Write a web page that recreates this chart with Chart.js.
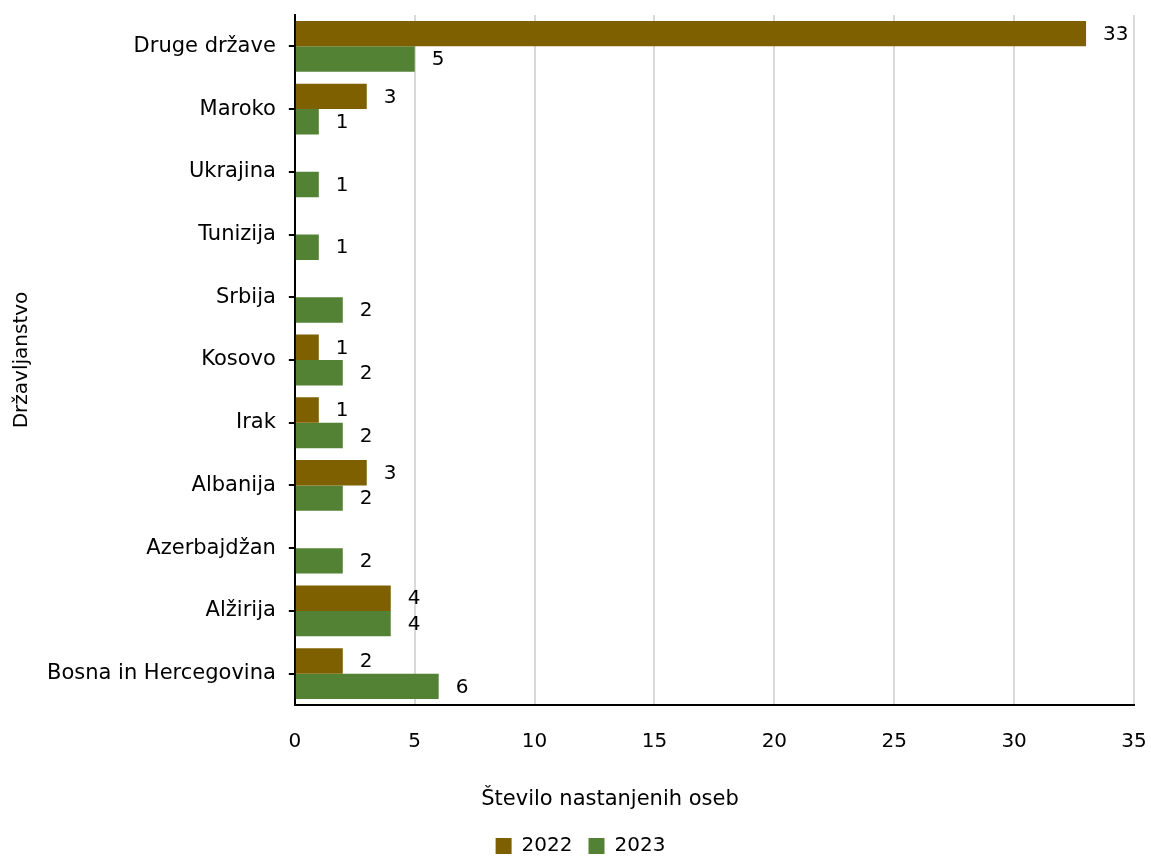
<!DOCTYPE html>
<html>
<head>
<meta charset="utf-8">
<script src="https://cdn.jsdelivr.net/npm/chart.js@4"></script>
<style>
  html, body { margin: 0; padding: 0; background: #fff; }
  #wrap { width: 1151px; height: 857px; position: relative; }
</style>
</head>
<body>
<div id="wrap"><canvas id="chart"></canvas></div>
<script>
const countries = ['Druge države', 'Maroko', 'Ukrajina', 'Tunizija', 'Srbija', 'Kosovo', 'Irak', 'Albanija', 'Azerbajdžan', 'Alžirija', 'Bosna in Hercegovina'];
const values2022 = [33, 3, null, null, null, 1, 1, 3, null, 4, 2];
const values2023 = [5, 1, 1, 1, 2, 2, 2, 2, 2, 4, 6];
const xTicks = [0, 5, 10, 15, 20, 25, 30, 35];
const xTitleText = 'Število nastanjenih oseb';

const FONT = "'DejaVu Sans', Verdana, sans-serif";

// value labels to the right of each bar
const barLabels = {
    id: 'barLabels',
    afterDatasetsDraw(chart) {
        const ctx = chart.ctx;
        ctx.save();
        ctx.font = '20px ' + FONT;
        ctx.fillStyle = '#000';
        ctx.textAlign = 'left';
        ctx.textBaseline = 'middle';
        chart.data.datasets.forEach((ds, i) => {
            chart.getDatasetMeta(i).data.forEach((bar, j) => {
                const v = ds.data[j];
                if (v === null) return;
                ctx.fillText(String(v), bar.x + 17, bar.y + 1);
            });
        });
        ctx.restore();
    }
};

// x-axis title drawn where the original has it (space is reserved by the scale title)
const xTitle = {
    id: 'xTitle',
    afterDraw(chart) {
        const ctx = chart.ctx;
        ctx.save();
        ctx.font = '21px ' + FONT;
        ctx.fillStyle = '#000';
        ctx.textAlign = 'center';
        ctx.textBaseline = 'middle';
        ctx.fillText(xTitleText, 610, 800);
        ctx.restore();
    }
};

new Chart(document.getElementById('chart').getContext('2d'), {
    type: 'bar',
    data: {
        labels: countries,
        datasets: [{
            label: '2022',
            data: values2022,
            backgroundColor: '#7F6000',
            borderWidth: 0
        }, {
            label: '2023',
            data: values2023,
            backgroundColor: '#548235',
            borderWidth: 0
        }]
    },
    options: {
        indexAxis: 'y',
        responsive: true,
        maintainAspectRatio: false,
        animation: false,
        layout: { padding: { left: 10, right: 0, top: 15, bottom: -9 } },
        datasets: {
            bar: { barPercentage: 1, categoryPercentage: 0.81 }
        },
        scales: {
            x: {
                min: 0,
                max: 35,
                afterBuildTicks: axis => { axis.ticks = xTicks.map(v => ({ value: v })); },
                afterFit: axis => { axis.paddingRight = 17; axis.paddingLeft = 0; },
                grid: { color: '#d9d9d9', lineWidth: 2, drawTicks: true, tickLength: 21, tickColor: 'rgba(0,0,0,0)' },
                border: { color: '#000', width: 2 },
                ticks: { color: '#000', font: { family: FONT, size: 20 }, padding: 4 },
                title: { display: true, text: xTitleText, color: 'rgba(0,0,0,0)', font: { family: FONT, size: 20 }, padding: { top: 33, bottom: 5 } }
            },
            y: {
                afterFit: axis => { axis.paddingTop = 0; axis.paddingBottom = 0; },
                grid: { display: true, drawOnChartArea: false, drawTicks: true, tickLength: 6, offset: false, color: '#000', lineWidth: 2 },
                border: { color: '#000', width: 2 },
                ticks: { color: '#000', font: { family: FONT, size: 21 }, padding: 13 },
                title: { display: true, text: 'Državljanstvo', color: '#000', font: { family: FONT, size: 20 }, padding: { top: 0, bottom: 0 } }
            }
        },
        plugins: {
            legend: {
                position: 'bottom',
                labels: { color: '#000', font: { family: FONT, size: 20 }, boxWidth: 16, boxHeight: 16, padding: 16 }
            },
            tooltip: { enabled: false }
        }
    },
    plugins: [barLabels, xTitle]
});
</script>
</body>
</html>
